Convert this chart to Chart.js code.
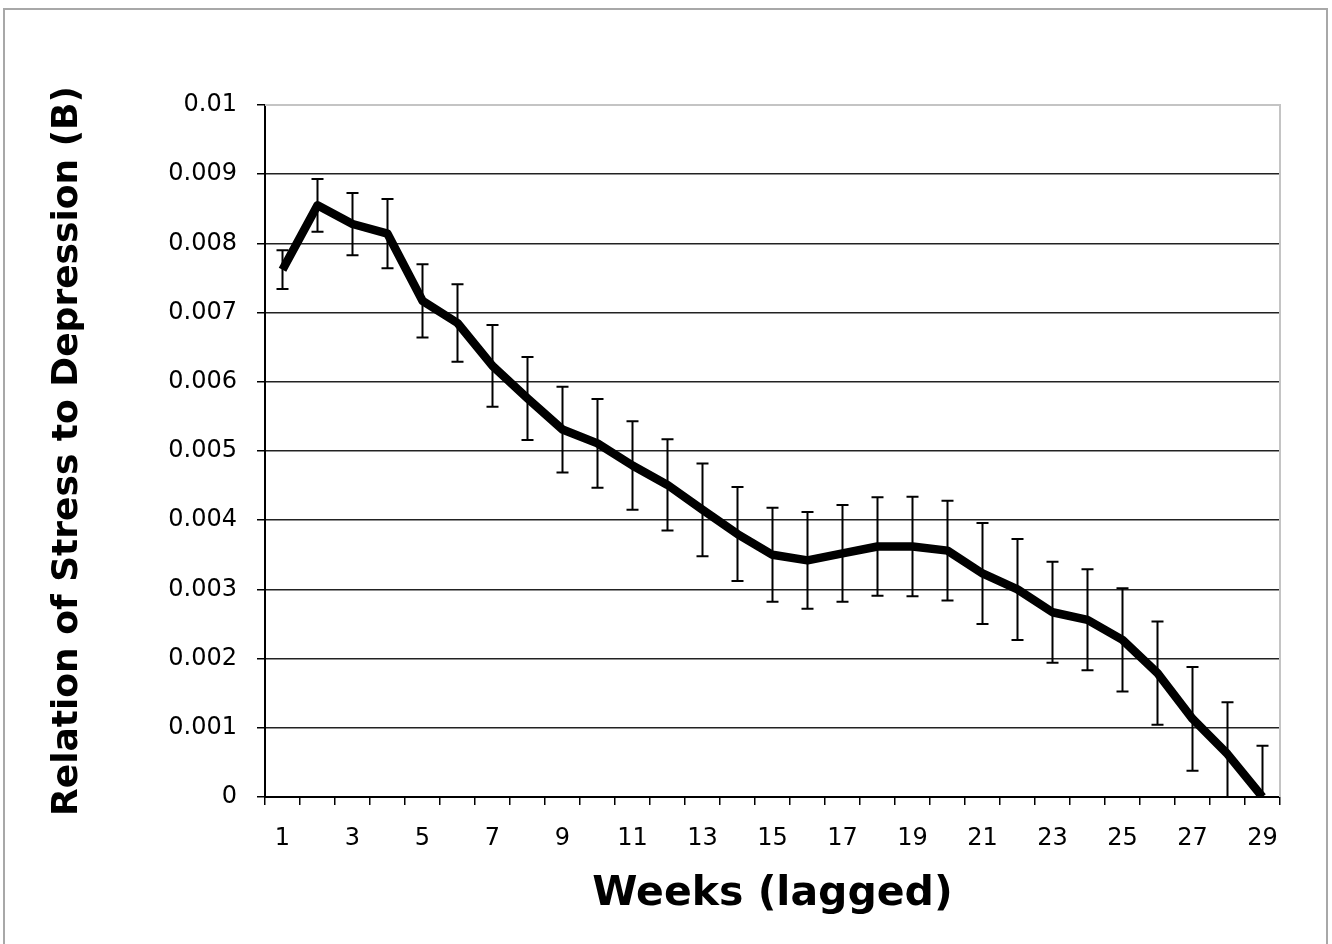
<!DOCTYPE html>
<html>
<head>
<meta charset="utf-8">
<script src="https://cdn.jsdelivr.net/npm/chart.js@4.4.1/dist/chart.umd.min.js"></script>
<style>
    body { margin: 0; background: #fff; }
    #wrap { position: relative; width: 1332px; height: 944px; overflow: hidden; }
    #kader {
        position: absolute; left: 3px; top: 8px; width: 1321px; height: 950px;
        border: 2px solid #a8a8a8; pointer-events: none;
    }
</style>
</head>
<body>
<div id="wrap">
    <canvas id="grafiek" width="1332" height="944"></canvas>
    <div id="kader"></div>
</div>
<script>
// ===============================
// Data
// ===============================
const weken = ["1","2","3","4","5","6","7","8","9","10","11","12","13","14","15",
               "16","17","18","19","20","21","22","23","24","25","26","27","28","29"];

const waarden = [0.00762, 0.00855, 0.00828, 0.00814, 0.00717, 0.00685, 0.00623, 0.00576,
                 0.00531, 0.00511, 0.00479, 0.00451, 0.00415, 0.00380, 0.00350, 0.00342,
                 0.00352, 0.00362, 0.00362, 0.00356, 0.00323, 0.00300, 0.00267, 0.00256,
                 0.00227, 0.00179, 0.00113, 0.00062, 0.00000];

// halve lengte van de foutbalk
const fouten = [0.00028, 0.00038, 0.00045, 0.00050, 0.00053, 0.00056, 0.00059, 0.00060,
                0.00062, 0.00064, 0.00064, 0.00066, 0.00067, 0.00068, 0.00068, 0.00070,
                0.00070, 0.00071, 0.00072, 0.00072, 0.00073, 0.00073, 0.00073, 0.00073,
                0.000745, 0.000745, 0.00075, 0.00075, 0.00074];

const yTitel = "Relation of Stress to Depression (B)";
const xTitel = "Weeks (lagged)";

const lettertype = "'DejaVu Sans', Verdana, sans-serif";

// ===============================
// Plugin: rand van het plotvlak
// ===============================
const plotRandPlugin = {
    id: 'plotRand',
    beforeDatasetsDraw(chart) {
        const { ctx, chartArea } = chart;
        ctx.save();
        ctx.strokeStyle = '#c4c4c4';
        ctx.lineWidth = 2;
        ctx.beginPath();
        ctx.moveTo(chartArea.left, chartArea.top);
        ctx.lineTo(chartArea.right, chartArea.top);
        ctx.lineTo(chartArea.right, chartArea.bottom);
        ctx.stroke();
        ctx.restore();
    }
};

// ===============================
// Plugin: foutbalken
// ===============================
const foutbalkenPlugin = {
    id: 'foutbalken',
    beforeDatasetsDraw(chart) {
        const { ctx, chartArea, scales } = chart;
        const x = scales.x, y = scales.y;
        ctx.save();
        ctx.beginPath();
        ctx.rect(chartArea.left, chartArea.top - 20, chartArea.width, chartArea.height + 20);
        ctx.clip();
        ctx.strokeStyle = '#000';
        ctx.lineWidth = 2;
        waarden.forEach((v, i) => {
            const px = x.getPixelForValue(i);
            const boven = y.getPixelForValue(v + fouten[i]);
            const onder = y.getPixelForValue(v - fouten[i]);
            ctx.beginPath();
            ctx.moveTo(px, boven);
            ctx.lineTo(px, onder);
            ctx.moveTo(px - 6, boven);
            ctx.lineTo(px + 6, boven);
            ctx.moveTo(px - 6, onder);
            ctx.lineTo(px + 6, onder);
            ctx.stroke();
        });
        ctx.restore();
    }
};

// ===============================
// Grafiek maken
// ===============================
const config = {
    type: 'line',
    data: {
        labels: weken,
        datasets: [{
            label: 'B',
            data: waarden,
            borderColor: '#000',
            borderWidth: 8.5,
            borderJoinStyle: 'round',
            borderCapStyle: 'butt',
            pointRadius: 0,
            tension: 0,
            fill: false
        }]
    },
    options: {
        responsive: false,
        animation: false,
        layout: { padding: { top: 105, right: 52, left: 0, bottom: 0 } },
        plugins: {
            legend: { display: false },
            tooltip: { enabled: false }
        },
        scales: {
            x: {
                type: 'category',
                offset: true,
                grid: {
                    offset: true,
                    drawOnChartArea: false,
                    drawTicks: true,
                    tickLength: 8,
                    color: '#000',
                    lineWidth: 1.5
                },
                border: { color: '#000', width: 2 },
                ticks: {
                    autoSkip: false,
                    maxRotation: 0,
                    padding: 19,
                    color: '#000',
                    font: { family: lettertype, size: 24 },
                    callback: function(value, index) {
                        return index % 2 === 0 ? this.getLabelForValue(value) : '';
                    }
                },
                title: {
                    display: true,
                    text: xTitel,
                    color: '#000',
                    font: { family: lettertype, size: 41, weight: 'bold' },
                    padding: { top: 0, bottom: 25 }
                },
                afterFit: function(scale) { scale.height = 944 - 797; }
            },
            y: {
                min: 0,
                max: 0.01,
                grid: {
                    drawTicks: true,
                    tickLength: 8,
                    lineWidth: 1.5,
                    color: ctx => (ctx.tick && ctx.tick.value >= 0.0099) ? 'rgba(0,0,0,0)' : '#222',
                    tickColor: '#000'
                },
                border: { color: '#000', width: 2 },
                ticks: {
                    stepSize: 0.001,
                    padding: 20,
                    color: '#000',
                    font: { family: lettertype, size: 24 },
                    callback: v => parseFloat(v.toFixed(3)).toString()
                },
                title: {
                    display: true,
                    text: yTitel,
                    color: '#000',
                    font: { family: lettertype, size: 36, weight: 'bold' },
                    padding: { top: 46, bottom: 0 }
                },
                afterFit: function(scale) { scale.width = 265; }
            }
        }
    },
    plugins: [plotRandPlugin, foutbalkenPlugin]
};

new Chart(document.getElementById("grafiek").getContext("2d"), config);
</script>
</body>
</html>
